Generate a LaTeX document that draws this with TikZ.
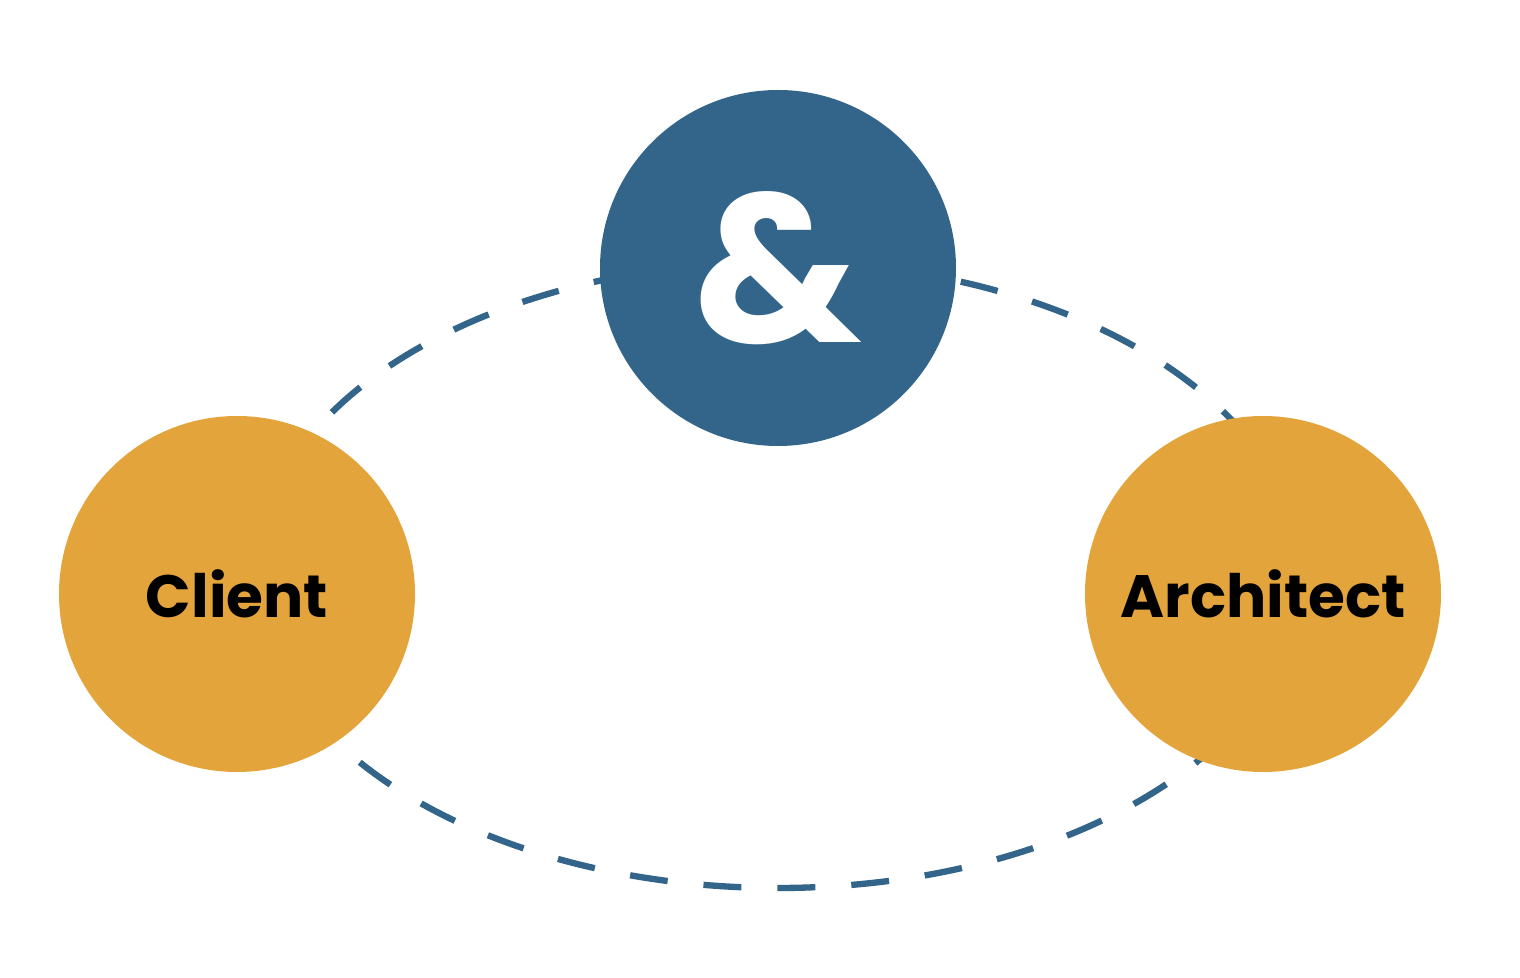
\documentclass[tikz,border=0pt]{standalone}
\usepackage{fontspec}
\setmainfont{Poppins}
\definecolor{linkblue}{HTML}{326589}
\definecolor{partygold}{HTML}{E3A43C}
\tikzset{
  party/.style={circle,fill=partygold,minimum size=3.56cm,inner sep=0pt,
    font=\fontsize{17pt}{17pt}\selectfont\bfseries},
  hub/.style={circle,fill=linkblue,minimum size=3.56cm,inner sep=0pt,text=white,
    font=\fontsize{60pt}{60pt}\selectfont\bfseries}
}
\begin{document}
\begin{tikzpicture}
  \useasboundingbox (0,0) rectangle (15.2,9.78);
  \draw[linkblue,line width=1.8pt,dash pattern=on 0.38cm off 0.36cm]
    (7.78,4.03) ellipse [x radius=5.22cm,y radius=3.13cm];
  \node[hub] (amp) at (7.78,7.10) {\&};
  \node[party] (client) at (2.37,3.84) {\raisebox{-0.1cm}{Client}\hspace{0.3cm}};
  \node[party] (architect) at (12.63,3.84) {\raisebox{-0.1cm}{Architect}};
\end{tikzpicture}
\end{document}
